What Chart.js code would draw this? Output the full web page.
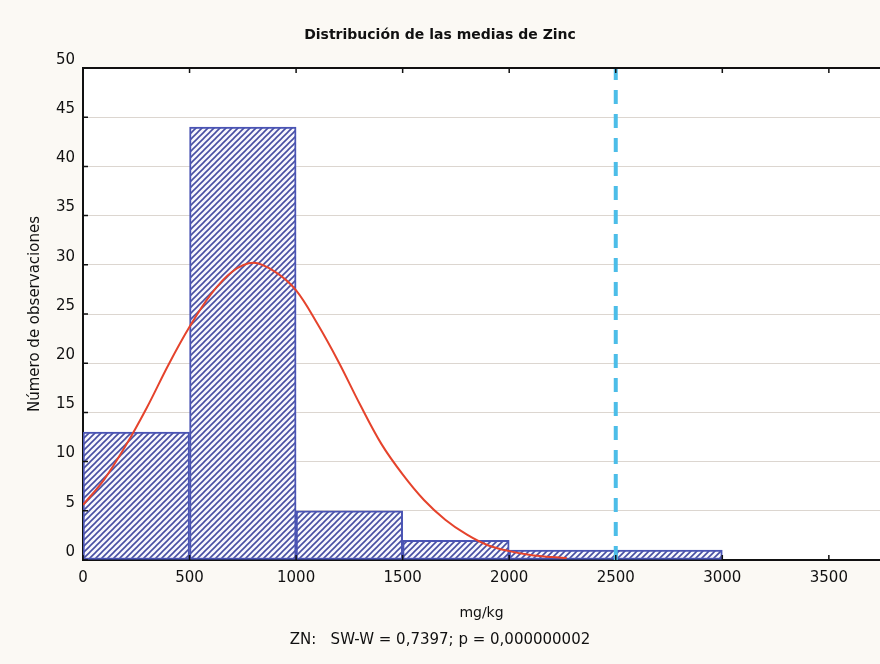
<!DOCTYPE html>
<html>
<head>
<meta charset="utf-8">
<script src="https://cdn.jsdelivr.net/npm/chart.js@4/dist/chart.umd.min.js"></script>
<style>
  html, body { margin: 0; padding: 0; background: #fbf9f4; }
  #zinc-hist { display: block; }
</style>
</head>
<body>
<canvas id="zinc-hist" width="880" height="664"></canvas>
<script>
// =====================================================
// HISTOGRAMA — medias de Zinc (mg/kg)
// =====================================================

const chartTitle = 'Distribución de las medias de Zinc';
const yTitle = 'Número de observaciones';
const xTitle = 'mg/kg';
const footNote = 'ZN:   SW-W = 0,7397; p = 0,000000002';

// histogram bins (centre of each 500 mg/kg class) and counts
const binMid = [250, 750, 1250, 1750, 2250, 2750];
const binCount = [13, 44, 5, 2, 1, 1];

// fitted normal curve
const curveX = [0, 100, 200, 300, 400, 500, 600, 700, 800, 900, 1000, 1100, 1200,
                1300, 1400, 1500, 1600, 1700, 1800, 1900, 2000, 2100, 2200, 2270];
const curveY = [5.6, 8.2, 11.6, 15.5, 19.8, 23.7, 27.0, 29.3, 30.2, 29.3, 27.4, 24.0, 20.1,
                15.8, 11.8, 8.7, 6.1, 4.1, 2.6, 1.5, 0.9, 0.5, 0.3, 0.2];

// reference limit (dashed line)
const limitX = 2500;

// axis ticks
const xTicks = [0, 500, 1000, 1500, 2000, 2500, 3000, 3500];
const xMin = 0, xMax = 3740;
const yMin = 0, yMax = 50, yStep = 5;

const FONT = 'DejaVu Sans, Verdana, sans-serif';

// diagonal hatch for the bars
function makeHatch() {
    const s = 6;
    const c = document.createElement('canvas');
    c.width = s; c.height = s;
    const g = c.getContext('2d');
    g.fillStyle = '#f7f7fd';
    g.fillRect(0, 0, s, s);
    g.strokeStyle = '#474ea2';
    g.lineWidth = 1.6;
    g.beginPath();
    g.moveTo(-1, s + 1); g.lineTo(s + 1, -1);
    g.moveTo(-1, 1); g.lineTo(1, -1);
    g.moveTo(s - 1, s + 1); g.lineTo(s + 1, s - 1);
    g.stroke();
    return g.createPattern(c, 'repeat');
}

const ctx = document.getElementById('zinc-hist').getContext('2d');
const hatch = makeHatch();

// background + white plot area
const backdrop = {
    id: 'backdrop',
    beforeDraw(chart) {
        const { ctx, chartArea: a } = chart;
        ctx.save();
        ctx.fillStyle = '#fbf9f4';
        ctx.fillRect(0, 0, chart.width, chart.height);
        ctx.fillStyle = '#ffffff';
        ctx.fillRect(a.left, a.top, a.right - a.left, a.bottom - a.top);
        ctx.restore();
    }
};

// top frame line and the small inward tick marks
const frameTicks = {
    id: 'frameTicks',
    afterDraw(chart) {
        const { ctx, chartArea: a, scales } = chart;
        ctx.save();
        ctx.strokeStyle = '#111';
        ctx.lineWidth = 2;
        ctx.beginPath();
        ctx.moveTo(a.left - 1, a.top);
        ctx.lineTo(a.right, a.top);
        ctx.stroke();
        ctx.lineWidth = 1.5;
        ctx.beginPath();
        scales.y.ticks.forEach(t => {
            const py = scales.y.getPixelForValue(t.value);
            ctx.moveTo(a.left, py);
            ctx.lineTo(a.left + 5, py);
        });
        scales.x.ticks.forEach(t => {
            const px = scales.x.getPixelForValue(t.value);
            ctx.moveTo(px, a.bottom);
            ctx.lineTo(px, a.bottom - 5);
            ctx.moveTo(px, a.top);
            ctx.lineTo(px, a.top + 5);
        });
        ctx.stroke();
        ctx.restore();
    }
};

new Chart(ctx, {
    type: 'bar',
    data: {
        datasets: [
            {
                type: 'line',
                data: [{ x: limitX, y: yMin }, { x: limitX, y: yMax }],
                borderColor: '#4cbde8',
                borderWidth: 4,
                borderDash: [14, 10],
                pointRadius: 0,
                order: 1
            },
            {
                type: 'line',
                data: curveX.map((x, i) => ({ x: x, y: curveY[i] })),
                borderColor: '#e5432c',
                borderWidth: 2,
                pointRadius: 0,
                tension: 0.35,
                order: 2
            },
            {
                type: 'bar',
                data: binMid.map((x, i) => ({ x: x, y: binCount[i] })),
                backgroundColor: hatch,
                borderColor: '#4a54b4',
                borderWidth: 2,
                borderSkipped: false,
                barPercentage: 1,
                categoryPercentage: 1,
                order: 3
            }
        ]
    },
    options: {
        responsive: false,
        animation: false,
        devicePixelRatio: 1,
        layout: { padding: 0 },
        plugins: {
            legend: { display: false },
            tooltip: { enabled: false },
            title: {
                display: true,
                text: chartTitle,
                color: '#111',
                font: { family: FONT, size: 14, weight: 'bold' },
                padding: { top: 26.6, bottom: 24.6 }
            },
            subtitle: {
                display: true,
                position: 'bottom',
                text: footNote,
                color: '#111',
                font: { family: FONT, size: 15 },
                padding: { top: 4, bottom: 15 }
            }
        },
        scales: {
            x: {
                type: 'linear',
                min: xMin, max: xMax,
                offset: false,
                grid: { display: false, drawTicks: false, offset: false },
                border: { display: true, color: '#111', width: 2 },
                afterBuildTicks(scale) { scale.ticks = xTicks.map(v => ({ value: v })); },
                ticks: {
                    color: '#111',
                    padding: 9,
                    maxRotation: 0,
                    autoSkip: false,
                    callback: v => String(v),
                    font: { family: FONT, size: 15 }
                },
                title: {
                    display: true,
                    text: xTitle,
                    color: '#111',
                    font: { family: FONT, size: 14 },
                    padding: { top: 0, bottom: 5 }
                },
                afterFit(scale) { scale.height = 67; }
            },
            y: {
                min: yMin, max: yMax,
                grid: { color: '#dcd6d0', lineWidth: 1, drawTicks: false },
                border: { display: true, color: '#111', width: 2 },
                ticks: {
                    stepSize: yStep,
                    color: '#111',
                    padding: 8,
                    labelOffset: -8,
                    font: { family: FONT, size: 15 }
                },
                title: {
                    display: true,
                    text: yTitle,
                    color: '#111',
                    font: { family: FONT, size: 15 },
                    padding: { top: 26, bottom: 0 }
                },
                afterFit(scale) { scale.width = 83; }
            }
        }
    },
    plugins: [backdrop, frameTicks]
});
</script>
</body>
</html>
